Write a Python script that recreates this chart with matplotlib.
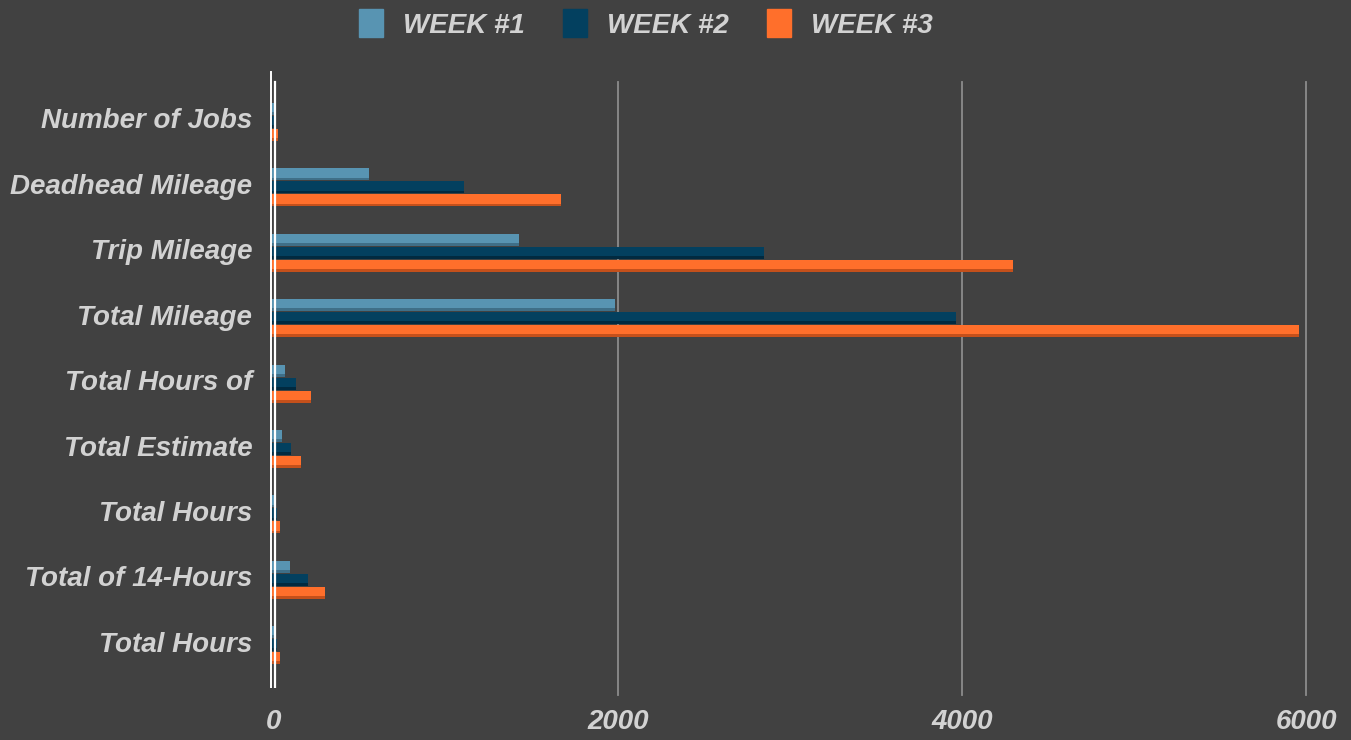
import matplotlib
matplotlib.use("Agg")
import matplotlib.pyplot as plt
import numpy as np

categories = ["Number of Jobs", "Deadhead Mileage", "Trip Mileage", "Total Mileage",
              "Total Hours of", "Total Estimate", "Total Hours", "Total of 14-Hours", "Total Hours"]
series_names = ["WEEK #1", "WEEK #2", "WEEK #3"]
week1 = [4, 552, 1424, 1983, 62, 48, 10, 91, 10]
week2 = [10, 1105, 2849, 3965, 128, 101, 20, 196, 20]
week3 = [22, 1669, 4297, 5959, 213, 159, 36, 295, 36]
xticks = [0, 2000, 4000, 6000]

colors = ["#5894b2", "#03405f", "#ff6f2b"]
dark = ["#3f6f88", "#012a40", "#c4501b"]
bg = "#414141"
txt = "#d2d2d2"
font = dict(family=["Liberation Sans", "DejaVu Sans"], style="italic", weight="bold")

fig = plt.figure(figsize=(13.51, 7.40), dpi=100, facecolor=bg)
W, H = 1351, 740
left_px, right_px, top_px, bot_px = 262, 1345, 70, 688
ax = fig.add_axes([left_px / W, 1 - bot_px / H, (right_px - left_px) / W, (bot_px - top_px) / H])
ax.set_facecolor(bg)

scale = 344 / 2000.0
x0_px = 274
ax.set_xlim((left_px - x0_px) / scale, (right_px - x0_px) / scale)
n = len(categories)
spacing = 65.4
first_px = 118.5
ax.set_ylim((bot_px - first_px) / spacing, (top_px - first_px) / spacing)

y = np.arange(n)
off = 13 / spacing
h = 12 / spacing
shift = 3.5 / spacing
bar_start = -3 / scale
for i, (vals, c, dc) in enumerate(zip([week1, week2, week3], colors, dark)):
    yy = y + (i - 1) * off + shift
    v = np.array(vals, dtype=float)
    ax.barh(yy, v - bar_start, left=bar_start, height=h, color=c, edgecolor="none", zorder=3,
            label=series_names[i])
    ax.barh(yy + h * 0.38, v - bar_start, left=bar_start, height=h * 0.24, color=dc,
            edgecolor="none", zorder=4)

for xv in xticks[1:]:
    ax.plot([xv, xv], [(bot_px + 7 - first_px) / spacing, (82 - first_px) / spacing],
            color="#8c8c8c", lw=1.3, zorder=1, clip_on=False)
ax.plot([(270.5 - x0_px) / scale] * 2, [(bot_px - first_px) / spacing, (72 - first_px) / spacing],
        color="white", lw=1.4, zorder=5)
ax.plot([(274.5 - x0_px) / scale] * 2, [(bot_px - first_px) / spacing, (82 - first_px) / spacing],
        color="white", lw=1.6, zorder=5)

for s in ax.spines.values():
    s.set_visible(False)
ax.set_yticks(y)
ax.set_yticklabels(categories, color=txt, fontsize=20, **font)
ax.tick_params(axis="y", length=0, pad=7)
ax.set_xticks(xticks)
ax.set_xticklabels([str(v) for v in xticks], color=txt, fontsize=20, **font)
ax.tick_params(axis="x", length=0, pad=15)

handles = [plt.Rectangle((0, 0), 1, 1, color=c) for c in colors]
leg = fig.legend(handles, series_names, loc="center", bbox_to_anchor=(646 / W, 1 - 24 / H),
                 ncol=3, frameon=False, handlelength=0.86, handleheight=1.15, columnspacing=1.37,
                 handletextpad=0.72,
                 prop=dict(family="Liberation Sans", style="italic", weight="bold", size=20))
for t in leg.get_texts():
    t.set_color(txt)

fig.savefig("out.png", dpi=100, facecolor=bg)
